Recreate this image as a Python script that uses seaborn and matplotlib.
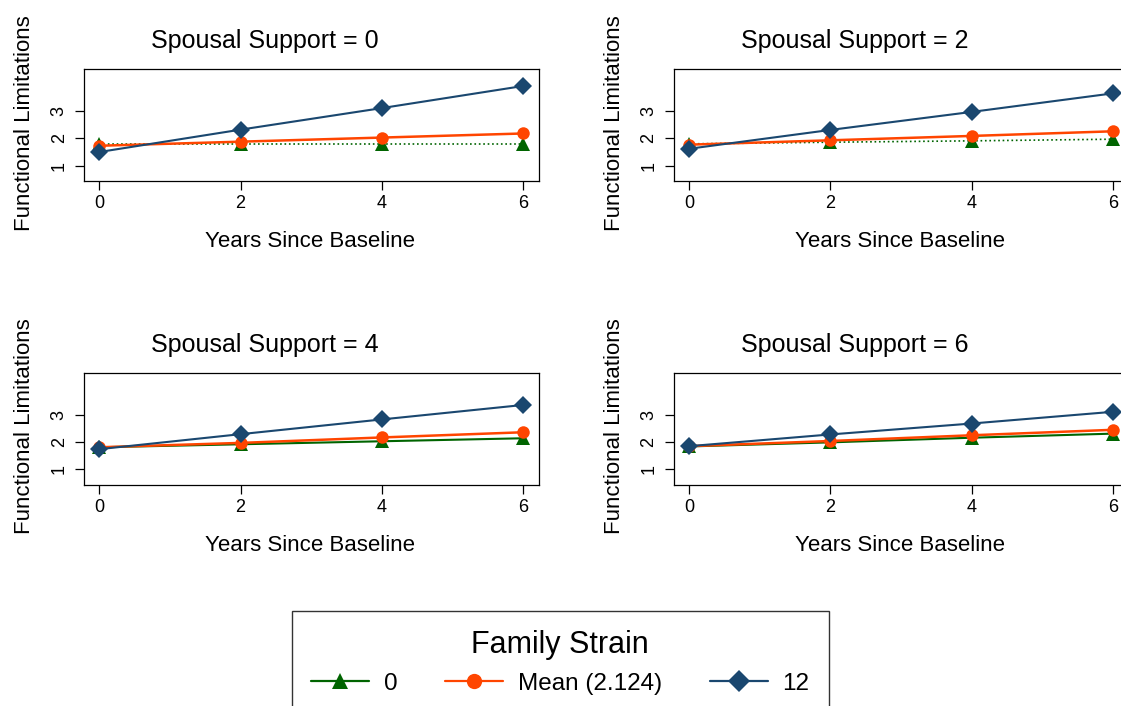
import numpy as np
import pandas as pd
import matplotlib
matplotlib.use("Agg")
import matplotlib.pyplot as plt
from matplotlib.lines import Line2D
import seaborn as sns

# Predicted functional limitations by years since baseline,
# for three levels of family strain, one panel per spousal-support level
years = [0, 2, 4, 6]
support_levels = [0, 2, 4, 6]
strain_labels = ["0", "Mean (2.124)", "12"]

strain0_s0 = [1.80, 1.80, 1.80, 1.80]
strainM_s0 = [1.73, 1.88, 2.03, 2.18]
strain12_s0 = [1.50, 2.32, 3.11, 3.92]

strain0_s2 = [1.80, 1.86, 1.91, 1.97]
strainM_s2 = [1.77, 1.93, 2.09, 2.26]
strain12_s2 = [1.62, 2.31, 2.97, 3.65]

strain0_s4 = [1.81, 1.92, 2.03, 2.14]
strainM_s4 = [1.81, 1.97, 2.17, 2.36]
strain12_s4 = [1.74, 2.29, 2.83, 3.36]

strain0_s6 = [1.84, 1.99, 2.16, 2.31]
strainM_s6 = [1.85, 2.04, 2.25, 2.45]
strain12_s6 = [1.85, 2.28, 2.68, 3.11]

series = {
    0: [strain0_s0, strainM_s0, strain12_s0],
    2: [strain0_s2, strainM_s2, strain12_s2],
    4: [strain0_s4, strainM_s4, strain12_s4],
    6: [strain0_s6, strainM_s6, strain12_s6],
}

rows = []
for s in support_levels:
    for lab, vals in zip(strain_labels, series[s]):
        for yr, v in zip(years, vals):
            rows.append({"support": s, "strain": lab, "years": yr, "value": v})
df = pd.DataFrame(rows)

colors = {"0": "#006400", "Mean (2.124)": "#ff4500", "12": "#1a476f"}
markers = {"0": "^", "Mean (2.124)": "o", "12": "D"}
msizes = {"0": 9.5, "Mean (2.124)": 9.0, "12": 9.5}
lwidths = {"0": 1.5, "Mean (2.124)": 1.8, "12": 1.5}

sns.set_theme(style="ticks")
plt.rcParams["font.family"] = ["Liberation Sans", "DejaVu Sans"]
plt.rcParams["axes.linewidth"] = 0.9
plt.rcParams["text.color"] = "black"
plt.rcParams["axes.labelcolor"] = "black"

W, H = 1121, 706
fig = plt.figure(figsize=(W / 100, H / 100), dpi=100)
fig.patch.set_facecolor("white")

# panel boxes in pixels: (left, top, width, height)
boxes = {
    0: (84.3, 69, 454.7, 112),
    2: (674.2, 69, 454.7, 112),
    4: (84.3, 372.7, 454.7, 112),
    6: (674.2, 372.7, 454.7, 112),
}

for s in support_levels:
    l, t, w, h = boxes[s]
    ax = fig.add_axes([l / W, 1 - (t + h) / H, w / W, h / H])
    sub = df[df["support"] == s]
    for lab in strain_labels:
        d = sub[sub["strain"] == lab]
        ls = ":" if (lab == "0" and s in (0, 2)) else "-"
        lw = 1.2 if ls == ":" else lwidths[lab]
        sns.lineplot(data=d, x="years", y="value", ax=ax, color=colors[lab],
                     marker=markers[lab], markersize=msizes[lab],
                     markeredgewidth=0, linewidth=lw, linestyle=ls,
                     legend=False, errorbar=None)
    ax.set_xlim(-0.21, 6.22)
    ax.set_ylim(0.44, 4.54)
    ax.set_xticks(years)
    ax.set_yticks([1, 2, 3])
    ax.tick_params(axis="both", direction="out", length=6.5, width=0.9,
                   labelsize=13, color="black", labelcolor="black")
    ax.tick_params(axis="x", pad=3.5)
    ax.tick_params(axis="y", pad=5.5)
    for tl in ax.get_yticklabels():
        tl.set_rotation(90)
        tl.set_va("center")
    for sp in ax.spines.values():
        sp.set_visible(True)
        sp.set_color("black")
        sp.set_linewidth(0.9)
    ax.set_xlabel("Years Since Baseline", fontsize=16, color="black")
    ax.set_ylabel("Functional Limitations", fontsize=16, color="black")
    ax.xaxis.set_label_coords(0.496, -(231.5 - 181) / h)
    ax.yaxis.set_label_coords(-(84.3 - 35.5) / w, 0.52)
    ax.text(0.396, 1 + 20.5 / h, f"Spousal Support = {s}", transform=ax.transAxes,
            ha="center", va="baseline", fontsize=18, color="black")
    ax.grid(False)

handles = [
    Line2D([], [], color=colors[lab], marker=markers[lab],
           markersize=m, markeredgewidth=0, linewidth=1.6)
    for lab, m in zip(strain_labels, [12, 11, 11.5])
]
leg = fig.legend(handles=handles, labels=strain_labels, loc="upper center",
                 bbox_to_anchor=(560.3 / W, 1 - 611 / H), ncol=3,
                 title="Family Strain", title_fontsize=22, fontsize=17.5,
                 frameon=True, fancybox=False, edgecolor="black",
                 handlelength=2.4, handletextpad=0.6, columnspacing=1.95,
                 borderpad=0.8, labelspacing=0.5, borderaxespad=0,
                 labelcolor="black")
leg.get_title().set_color("black")
leg.get_frame().set_linewidth(1.0)

fig.savefig("out.png", dpi=100, facecolor="white")
